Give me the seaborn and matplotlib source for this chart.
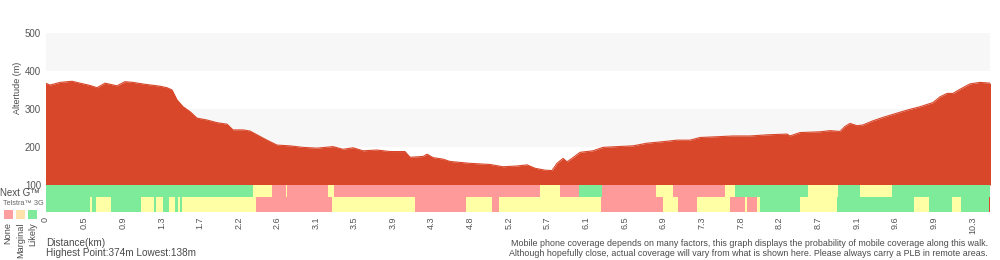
import numpy as np
import pandas as pd
import matplotlib
matplotlib.use("Agg")
import matplotlib.pyplot as plt
import seaborn as sns
from matplotlib.patches import Rectangle

# ---------------- data ----------------
dist_km = [0.00, 0.05, 0.161, 0.294, 0.383, 0.494, 0.572, 0.661, 0.717, 0.794,
           0.883, 0.972, 1.106, 1.272, 1.35, 1.406, 1.461, 1.528, 1.606, 1.683,
           1.794, 1.906, 2.017, 2.083, 2.194, 2.272, 2.35, 2.461, 2.572, 2.717,
           2.861, 3.017, 3.194, 3.306, 3.417, 3.528, 3.683, 3.828, 3.994, 4.05,
           4.194, 4.239, 4.306, 4.417, 4.494, 4.717, 4.939, 5.083, 5.239, 5.35,
           5.439, 5.55, 5.628, 5.683, 5.75, 5.794, 5.861, 5.939, 6.083, 6.194,
           6.35, 6.528, 6.683, 6.861, 7.017, 7.161, 7.272, 7.461, 7.639, 7.828,
           8.017, 8.239, 8.272, 8.383, 8.606, 8.717, 8.828, 8.883, 8.939, 9.017,
           9.083, 9.194, 9.306, 9.417, 9.572, 9.717, 9.861, 9.939, 10.017, 10.083,
           10.161, 10.272, 10.383, 10.5]
altitude_m = [368, 363, 370, 373, 368, 362, 356, 368, 365, 361,
              372, 370, 365, 360, 356, 350, 324, 306, 293, 276,
              271, 264, 260, 245, 245, 242, 232, 218, 205, 203,
              199, 197, 201, 194, 198, 190, 192, 188, 188, 173,
              175, 181, 172, 168, 162, 157, 154, 148, 150, 153,
              144, 139, 138, 157, 170, 161, 172, 186, 190, 199,
              201, 203, 210, 214, 218, 218, 225, 227, 229, 229,
              232, 234, 229, 238, 240, 243, 241, 254, 262, 256,
              258, 269, 278, 286, 297, 306, 317, 332, 341, 341,
              352, 366, 370, 368]

# coverage segments: edges (km) and category of each segment
nextg_edges = [0.0, 2.306, 2.517, 2.672, 2.683, 3.139, 3.206, 5.494, 5.717, 5.928,
               6.183, 6.783, 6.972, 7.550, 7.661, 8.472, 8.806, 9.050, 9.406, 10.5]
nextg_cov = ["L", "M", "N", "M", "N", "M", "N", "M", "N", "L",
             "N", "M", "N", "M", "L", "M", "L", "M", "L"]
g3_edges = [0.0, 0.494, 0.517, 0.561, 0.728, 1.061, 1.206, 1.228, 1.306, 1.372,
            1.439, 1.472, 1.494, 1.517, 2.339, 3.183, 4.106, 4.672, 4.961, 5.039,
            6.172, 6.861, 7.028, 7.239, 7.606, 7.772, 7.794, 7.906, 7.939, 8.383,
            8.794, 9.650, 9.817, 10.072, 10.172, 10.478, 10.5]
g3_cov = ["L", "M", "L", "M", "L", "M", "L", "M", "L", "M", "L", "M", "L", "M",
          "N", "M", "N", "M", "N", "M", "N", "M", "N", "M", "N", "M", "N", "M",
          "L", "M", "L", "M", "L", "M", "L", "X"]

tick_labels = ["0", "0.5", "0.9", "1.3", "1.7", "2.2", "2.6", "3.1", "3.5", "3.9",
               "4.3", "4.8", "5.2", "5.7", "6.1", "6.5", "6.9", "7.3", "7.8", "8.2",
               "8.7", "9.1", "9.6", "9.9", "10.3"]
y_ticks = [100, 200, 300, 400, 500]
legend_labels = ["None", "Marginal", "Likely"]

# ---------------- style ----------------
RED = "#d9472a"
COV_COL = {"N": "#ff9a9a", "M": "#ffffa6", "L": "#7deb9a", "X": RED}
LEG_COL = ["#ff9e9e", "#ffe2ab", "#7fe99c"]
TXT = "#4a4a4a"

sns.set_theme(style="white")
plt.rcParams['font.family'] = ['Liberation Sans', 'DejaVu Sans']

fig = plt.figure(figsize=(10, 2.6), dpi=100)
W, H = 1000.0, 260.0
x0, x1 = 45.5, 990.5
ax = fig.add_axes([x0 / W, 1 - 185 / H, (x1 - x0) / W, 152 / H])
cov = fig.add_axes([x0 / W, 1 - 212 / H, (x1 - x0) / W, 27 / H])

# background bands
ax.axhspan(400, 500, color="#f7f7f7", lw=0, zorder=0)
ax.axhspan(200, 300, color="#f7f7f7", lw=0, zorder=0)

df = pd.DataFrame({"dist": dist_km, "alt": altitude_m})
ax.fill_between(df["dist"], df["alt"], 100, color=RED, lw=0, zorder=2)
sns.lineplot(data=df, x="dist", y="alt", ax=ax, color=RED, lw=0.8, zorder=3)

ax.set_xlim(0, 10.5)
ax.set_ylim(100, 500)
ax.set_yticks(y_ticks)
ax.set_yticklabels([str(v) for v in y_ticks])
ax.tick_params(axis="y", length=0, pad=3.2, labelsize=7, colors="#555555")
ax.tick_params(axis="x", bottom=False, labelbottom=False)
ax.set_xlabel("")
ax.set_ylabel("")
for s in ax.spines.values():
    s.set_visible(False)

# coverage rows
def draw_row(edges, cats, y, h):
    segs = [(edges[i], edges[i + 1] - edges[i]) for i in range(len(cats))]
    cols = [COV_COL[c] for c in cats]
    cov.broken_barh(segs, (y, h), facecolors=cols, edgecolors="none", lw=0)

draw_row(nextg_edges, nextg_cov, 15.3, 11.7)
draw_row(g3_edges, g3_cov, 0, 15.3)
cov.set_xlim(0, 10.5)
cov.set_ylim(0, 27)
cov.set_yticks([])
ticks = np.arange(len(tick_labels)) * 10.3 / (len(tick_labels) - 1)
cov.set_xticks(ticks)
cov.set_xticklabels(tick_labels, rotation=90)
cov.tick_params(axis="x", length=0, pad=3.5, labelsize=6.5, colors="#555555")
for s in cov.spines.values():
    s.set_visible(False)

# y label
fig.text(17 / W, 1 - 88 / H, "Altertude (m)", rotation=90, ha="center", va="center",
         fontsize=6.5, color=TXT)

# legend
fig.text(0.5 / W, 1 - 193 / H, "Next G™", ha="left", va="center", fontsize=7.0, color=TXT)
fig.text(3 / W, 1 - 203.5 / H, "Telstra™ 3G", ha="left", va="center", fontsize=5.3, color="#666666")
for i, (lab, col) in enumerate(zip(legend_labels, LEG_COL)):
    lx = 3.5 + i * 12.4
    fig.patches.append(Rectangle((lx / W, 1 - 218.5 / H), 9 / W, 8.5 / H,
                                 transform=fig.transFigure, facecolor=col,
                                 edgecolor="none", zorder=5))
    fig.text((lx + 4.5) / W, 1 - 222 / H, lab, rotation=90, ha="center", va="top",
             fontsize=6.6, color=TXT)

# bottom texts
fig.text(46 / W, 1 - 243 / H, "Distance(km)", ha="left", va="center", fontsize=7.2, color=TXT)
fig.text(46 / W, 1 - 252.5 / H, "Highest Point:374m Lowest:138m", ha="left", va="center",
         fontsize=7.2, color=TXT)
fig.text(988 / W, 1 - 243 / H,
         "Mobile phone coverage depends on many factors, this graph displays the probability of mobile coverage along this walk.",
         ha="right", va="center", fontsize=6.4, color=TXT)
fig.text(988 / W, 1 - 253 / H,
         "Although hopefully close, actual coverage will vary from what is shown here. Please always carry a PLB in remote areas.",
         ha="right", va="center", fontsize=6.4, color=TXT)

fig.savefig("out.png", dpi=100, facecolor="white")
